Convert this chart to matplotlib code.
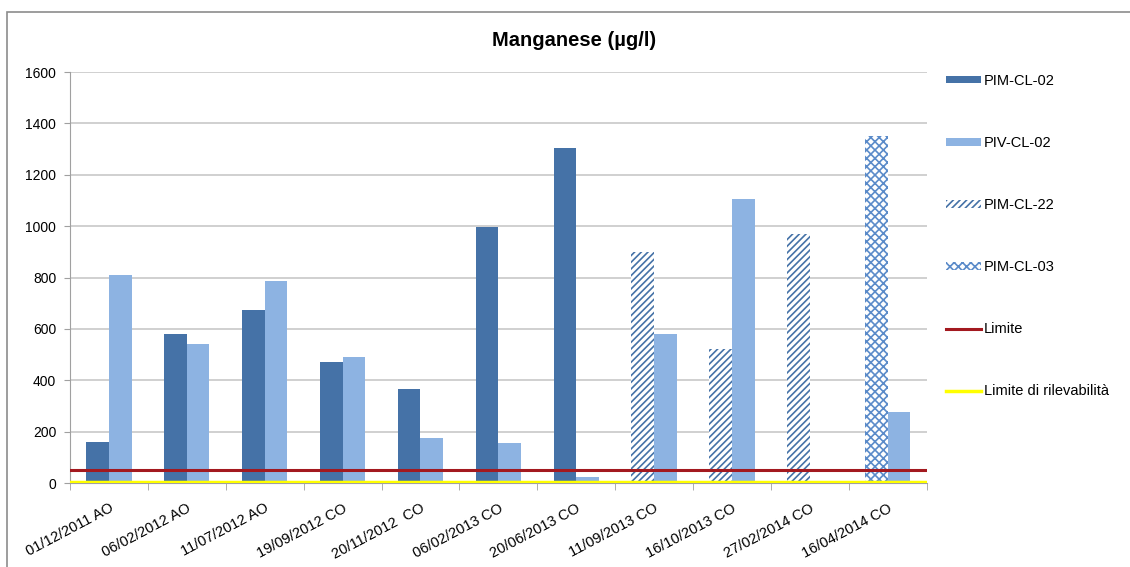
import matplotlib.pyplot as plt
import numpy as np
from matplotlib.patches import Rectangle

# category labels (sampling dates)
dates = ['01/12/2011 AO', '06/02/2012 AO', '11/07/2012 AO', '19/09/2012 CO',
         '20/11/2012  CO', '06/02/2013 CO', '20/06/2013 CO', '11/09/2013 CO',
         '16/10/2013 CO', '27/02/2014 CO', '16/04/2014 CO']

nan = np.nan
pim_cl_02 = [160, 580, 675, 470, 365, 995, 1305, nan, nan, nan, nan]
piv_cl_02 = [810, 540, 785, 490, 175, 155, 25, 580, 1105, nan, 275]
pim_cl_22 = [nan, nan, nan, nan, nan, nan, nan, 900, 520, 970, nan]
pim_cl_03 = [nan, nan, nan, nan, nan, nan, nan, nan, nan, nan, 1350]
limite = 50
limite_ril = 5

dark = '#4572A7'
light = '#8DB3E2'

plt.rcParams['font.family'] = ['Liberation Sans', 'DejaVu Sans']
plt.rcParams['hatch.linewidth'] = 1.2

fig = plt.figure(figsize=(11.3, 5.67), dpi=100)
ax = fig.add_axes([0.062, 0.148, 0.758, 0.725])

# grey frame around the chart
fig.patches.append(Rectangle((7 / 1130, -0.1), 1.2, 1 - 12 / 567 + 0.1,
                             transform=fig.transFigure, fill=False,
                             edgecolor='#8C8C8C', lw=1.2))

x = np.arange(len(dates))
w = 0.29
ax.bar(x - w / 2, pim_cl_02, w, color=dark, label='PIM-CL-02', zorder=2)
ax.bar(x + w / 2, piv_cl_02, w, color=light, label='PIV-CL-02', zorder=2)
ax.bar(x - w / 2, pim_cl_22, w, facecolor='white', edgecolor=dark, hatch='/////',
       lw=0, label='PIM-CL-22', zorder=2)
ax.bar(x - w / 2, pim_cl_03, w, facecolor='white', edgecolor='#5B8BC9', hatch='xxxx',
       lw=0, label='PIM-CL-03', zorder=2)
ax.axhline(limite, color='#A3191F', lw=2.2, label='Limite', zorder=3)
ax.axhline(limite_ril, color='#FFFF00', lw=2.5, label='Limite di rilevabilità', zorder=3)

ax.set_xlim(-0.5, len(dates) - 0.5)
ax.set_ylim(0, 1600)
ax.set_yticks(np.arange(0, 1601, 200))
ax.grid(axis='y', color='#C8C8C8', lw=1.2, zorder=0)
ax.set_axisbelow(True)

ax.set_xticks(x)
ax.set_xticklabels(dates, rotation=28, ha='right', rotation_mode='anchor', fontsize=10.5)
ax.set_xticks(np.arange(-0.5, len(dates), 1), minor=True)
ax.tick_params(axis='x', which='major', length=0, pad=13)
ax.tick_params(axis='x', which='minor', length=5, color='#A0A0A0')
ax.tick_params(axis='y', length=4, color='#A0A0A0', labelsize=10, pad=6)

for s in ['top', 'right']:
    ax.spines[s].set_visible(False)
ax.spines['left'].set_color('#A0A0A0')
ax.spines['bottom'].set_color('#A0A0A0')

fig.text(0.508, 0.928, 'Manganese (µg/l)', ha='center', va='center',
         fontsize=14.5, fontweight='bold')

handles, labels = ax.get_legend_handles_labels()
order = ['PIM-CL-02', 'PIV-CL-02', 'PIM-CL-22', 'PIM-CL-03', 'Limite', 'Limite di rilevabilità']
hmap = dict(zip(labels, handles))
ax.legend([hmap[k] for k in order], order, loc='upper left',
          bbox_to_anchor=(1.016, 1.01), frameon=False,
          fontsize=10.5, labelspacing=3.3, handlelength=2.4, handleheight=0.45,
          handletextpad=0.2, borderaxespad=0)

fig.savefig('out.png', dpi=100)
